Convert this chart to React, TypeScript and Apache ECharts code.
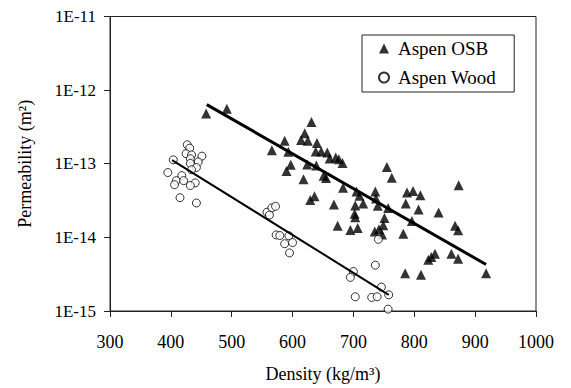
import React, { useEffect, useRef } from "react";
import * as echarts from "echarts";

const FONT = "'Liberation Serif', 'Times New Roman', serif";

const xTicks = [300, 400, 500, 600, 700, 800, 900, 1000];
const yTickLabels = ["1E-15", "1E-14", "1E-13", "1E-12", "1E-11"];

const osbDensity = [
  458, 492, 631, 620, 614, 625, 587, 566, 593, 640, 638, 647, 657, 661, 671, 676, 682,
  597, 590, 624, 639, 651, 655, 618, 683, 636, 629, 668, 705, 710, 716, 703, 702, 703,
  674, 695, 707, 735, 755, 763, 736, 737, 740, 757, 788, 798, 810, 786, 807, 840, 751,
  749, 742, 747, 796, 782, 873, 867, 872, 834, 828, 823, 861, 872, 785, 811, 918,
];
const osbPerm = [
  4.8e-13, 5.6e-13, 3.7e-13, 2.6e-13, 2.1e-13, 2.05e-13, 2.05e-13, 1.53e-13, 1.46e-13,
  1.92e-13, 1.47e-13, 1.47e-13, 1.42e-13, 1.18e-13, 1.22e-13, 1.15e-13, 1.02e-13,
  9.7e-14, 8.0e-14, 9.8e-14, 9.5e-14, 6.85e-14, 6.4e-14, 6.15e-14, 4.73e-14, 3.62e-14,
  3.23e-14, 2.8e-14, 4.2e-14, 3.68e-14, 2.89e-14, 2.72e-14, 2.1e-14, 1.87e-14, 1.44e-14,
  1.26e-14, 1.34e-14, 1.2e-14, 9.0e-14, 6.44e-14, 4.2e-14, 3.36e-14, 2.68e-14, 2.5e-14,
  4.06e-14, 4.28e-14, 3.72e-14, 2.89e-14, 2.39e-14, 2.18e-14, 1.83e-14, 1.46e-14,
  1.29e-14, 1.09e-14, 1.67e-14, 1.12e-14, 5.1e-14, 1.44e-14, 1.25e-14, 5.97e-15, 5.4e-15,
  4.98e-15, 5.97e-15, 5.14e-15, 3.26e-15, 3.1e-15, 3.26e-15,
];

const woodDensity = [
  395, 404, 427, 431, 425, 434, 451, 432, 445, 432, 442, 434, 418, 409, 421, 440, 432, 406,
  415, 442, 558, 566, 572, 562, 573, 579, 594, 587, 600, 595, 700, 695, 736, 741, 746,
  758, 703, 730, 739, 757,
];
const woodPerm = [
  7.6e-14, 1.13e-13, 1.81e-13, 1.63e-13, 1.37e-13, 1.32e-13, 1.27e-13, 1.17e-13, 1.06e-13,
  1.01e-13, 8.9e-14, 8.3e-14, 6.9e-14, 5.9e-14, 5.9e-14, 5.5e-14, 5.06e-14, 5.2e-14,
  3.46e-14, 2.93e-14, 2.2e-14, 2.52e-14, 2.64e-14, 2.01e-14, 1.08e-14, 1.06e-14,
  1.05e-14, 8.2e-15, 8.5e-15, 6.15e-15, 3.44e-15, 2.86e-15, 4.19e-15, 9.4e-15, 2.11e-15,
  1.66e-15, 1.56e-15, 1.53e-15, 1.56e-15, 1.06e-15,
];

const osbFitDensity = [459, 918];
const osbFitPerm = [6.35e-13, 4.28e-15];
const woodFitDensity = [402, 758];
const woodFitPerm = [1.12e-13, 1.66e-15];

const zip = (a: number[], b: number[]) => a.map((v, i) => [v, b[i]]);

export default function App() {
  const ref = useRef<HTMLDivElement>(null);
  useEffect(() => {
    if (!ref.current) return;
    const chart = echarts.init(ref.current, undefined, { renderer: "svg" });
    chart.setOption({
      animation: false,
      backgroundColor: "#fff",
      textStyle: { fontFamily: FONT, color: "#000" },
      grid: {
        left: 94,
        right: 35,
        top: 2,
        bottom: 74,
        show: true,
        borderColor: "#222",
        borderWidth: 1,
      },
      legend: {
        data: ["Aspen OSB", "Aspen Wood"],
        orient: "vertical",
        left: 354,
        top: 27,
        padding: [4, 18, 5, 16],
        itemGap: 10,
        itemWidth: 10,
        itemHeight: 10,
        borderColor: "#222",
        borderWidth: 1,
        textStyle: { fontFamily: FONT, fontSize: 19, color: "#000", padding: [0, 0, 0, 4] },
      },
      xAxis: {
        type: "value",
        min: xTicks[0],
        max: xTicks[xTicks.length - 1],
        interval: 100,
        name: "Density (kg/m³)",
        nameLocation: "middle",
        nameGap: 54,
        nameTextStyle: { fontFamily: FONT, fontSize: 18, color: "#000" },
        axisLine: { lineStyle: { color: "#222", width: 1 } },
        axisTick: { show: true, inside: false, length: 6, lineStyle: { color: "#222" } },
        axisLabel: {
          fontFamily: FONT,
          fontSize: 18,
          color: "#000",
          margin: 22,
          formatter: (v: number) => String(v),
        },
        splitLine: { show: false },
      },
      yAxis: {
        type: "log",
        logBase: 10,
        min: 1e-15,
        max: 1e-11,
        name: "Permeability (m²)",
        nameLocation: "middle",
        nameGap: 76,
        nameRotate: 90,
        nameTextStyle: { fontFamily: FONT, fontSize: 18, color: "#000" },
        axisLine: { show: true, lineStyle: { color: "#222", width: 1 } },
        axisTick: { show: true, inside: false, length: 6, lineStyle: { color: "#222" } },
        axisLabel: {
          fontFamily: FONT,
          fontSize: 17,
          color: "#000",
          margin: 14,
          formatter: (v: number) => {
            const idx = Math.round(Math.log10(v)) + 15;
            return yTickLabels[idx] ?? "";
          },
        },
        splitLine: { show: false },
      },
      series: [
        {
          name: "Aspen OSB",
          type: "scatter",
          symbol: "triangle",
          symbolSize: 10,
          itemStyle: { color: "#000" },
          data: zip(osbDensity, osbPerm),
          z: 3,
        },
        {
          name: "Aspen Wood",
          type: "scatter",
          symbol: "circle",
          symbolSize: 8,
          itemStyle: { color: "#fff", borderColor: "#000", borderWidth: 1 },
          data: zip(woodDensity, woodPerm),
          z: 3,
        },
        {
          name: "OSB fit",
          type: "line",
          showSymbol: false,
          symbol: "none",
          lineStyle: { color: "#000", width: 3 },
          data: zip(osbFitDensity, osbFitPerm),
          z: 4,
        },
        {
          name: "Wood fit",
          type: "line",
          showSymbol: false,
          symbol: "none",
          lineStyle: { color: "#000", width: 2 },
          data: zip(woodFitDensity, woodFitPerm),
          z: 4,
        },
      ],
    });
    return () => chart.dispose();
  }, []);
  return <div ref={ref} style={{ width: 563, height: 380 }} />;
}
